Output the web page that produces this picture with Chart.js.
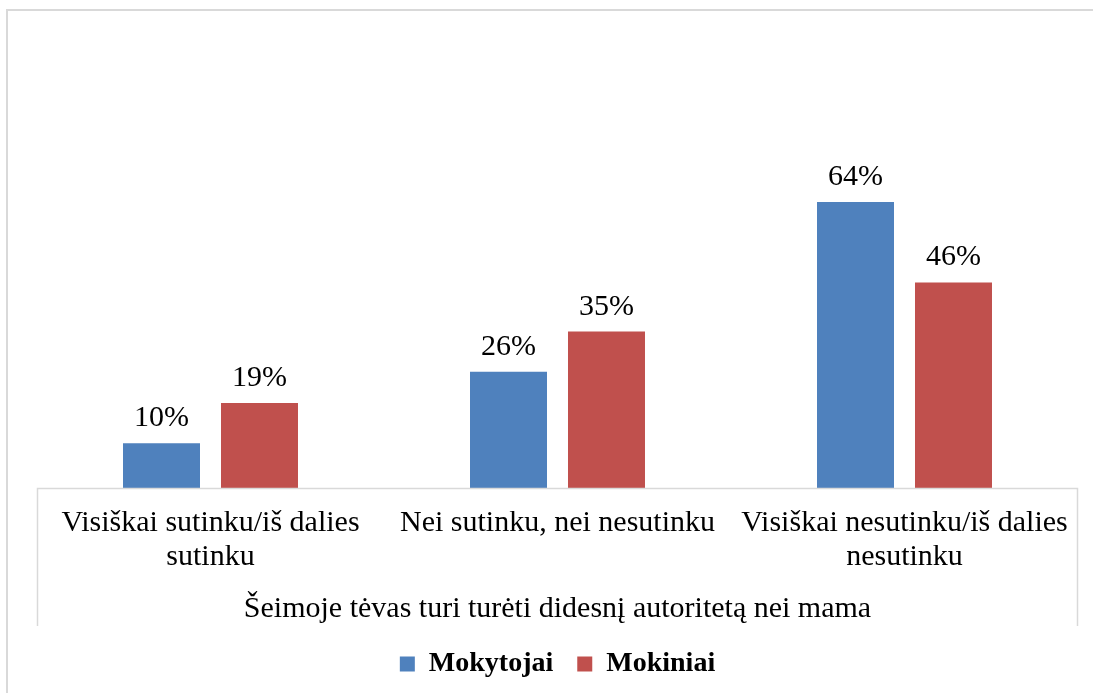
<!DOCTYPE html>
<html>
<head>
<meta charset="utf-8">
<script src="https://cdn.jsdelivr.net/npm/chart.js@4.4.1/dist/chart.umd.min.js"></script>
<style>
  html, body { margin: 0; padding: 0; background: #fff; }
  #wrap { position: relative; width: 1093px; height: 693px; }
</style>
</head>
<body>
<div id="wrap"><canvas id="c" width="1093" height="693"></canvas></div>
<script>
const categories = [
  ["Visiškai sutinku/iš dalies", "sutinku"],
  ["Nei sutinku, nei nesutinku"],
  ["Visiškai nesutinku/iš dalies", "nesutinku"]
];
const seriesNames = ["Mokytojai", "Mokiniai"];
const mokytojai = [10, 26, 64];
const mokiniai = [19, 35, 46];
const axisTitle = "Šeimoje tėvas turi turėti didesnį autoritetą nei mama";
const colors = ["#4f81bd", "#c0504d"];
const FONT = "'Liberation Serif', 'Times New Roman', serif";

const framePlugin = {
  id: 'frame',
  beforeDraw(chart) {
    const ctx = chart.ctx;
    ctx.save();
    ctx.fillStyle = '#fff';
    ctx.fillRect(0, 0, chart.width, chart.height);
    ctx.strokeStyle = '#d9d9d9';
    ctx.lineWidth = 2;
    ctx.strokeRect(7, 10, chart.width + 20, chart.height + 20);
    ctx.restore();
  },
  afterDraw(chart) {
    const ctx = chart.ctx;
    const x = chart.scales.x;
    ctx.save();
    ctx.strokeStyle = '#d9d9d9';
    ctx.lineWidth = 1.5;
    ctx.beginPath();
    ctx.moveTo(x.left + 0.5, x.bottom);
    ctx.lineTo(x.left + 0.5, x.top + 0.5);
    ctx.lineTo(x.right - 0.5, x.top + 0.5);
    ctx.lineTo(x.right - 0.5, x.bottom);
    ctx.stroke();
    ctx.restore();
  }
};

const labelPlugin = {
  id: 'valueLabels',
  afterDatasetsDraw(chart) {
    const ctx = chart.ctx;
    ctx.save();
    ctx.font = "30px " + FONT;
    ctx.fillStyle = '#000';
    ctx.textAlign = 'center';
    ctx.textBaseline = 'alphabetic';
    chart.data.datasets.forEach((ds, i) => {
      const meta = chart.getDatasetMeta(i);
      meta.data.forEach((el, j) => {
        ctx.fillText(ds.data[j] + '%', el.x, el.y - 17);
      });
    });
    ctx.restore();
  }
};

Chart.defaults.color = '#000';
Chart.defaults.font.family = FONT;

new Chart(document.getElementById('c'), {
  type: 'bar',
  data: {
    labels: categories,
    datasets: [
      { label: seriesNames[0], data: mokytojai, backgroundColor: colors[0], borderWidth: 0 },
      { label: seriesNames[1], data: mokiniai, backgroundColor: colors[1], borderWidth: 0 }
    ]
  },
  options: {
    responsive: false,
    animation: false,
    devicePixelRatio: 1,
    layout: { padding: { top: 41, left: 37, right: 15, bottom: 5 } },
    datasets: { bar: { categoryPercentage: 0.5648, barPercentage: 0.7857 } },
    scales: {
      y: { display: false, min: 0, max: 100 },
      x: {
        grid: { display: false, drawTicks: false, tickLength: 0 },
        border: { display: false },
        ticks: {
          autoSkip: false, maxRotation: 0, minRotation: 0, padding: 18,
          color: '#000',
          font: { family: FONT, size: 30, lineHeight: 34 / 30 }
        },
        title: {
          display: true, text: axisTitle, color: '#000',
          font: { family: FONT, size: 30, lineHeight: 34 / 30 },
          padding: { top: 0, bottom: 0 }
        }
      }
    },
    plugins: {
      legend: {
        position: 'bottom',
        labels: {
          boxWidth: 15, boxHeight: 15, padding: 24, color: '#000',
          font: { family: FONT, size: 28, weight: 'bold' }
        }
      },
      tooltip: { enabled: false },
      title: { display: false }
    }
  },
  plugins: [framePlugin, labelPlugin]
});
</script>
</body>
</html>
